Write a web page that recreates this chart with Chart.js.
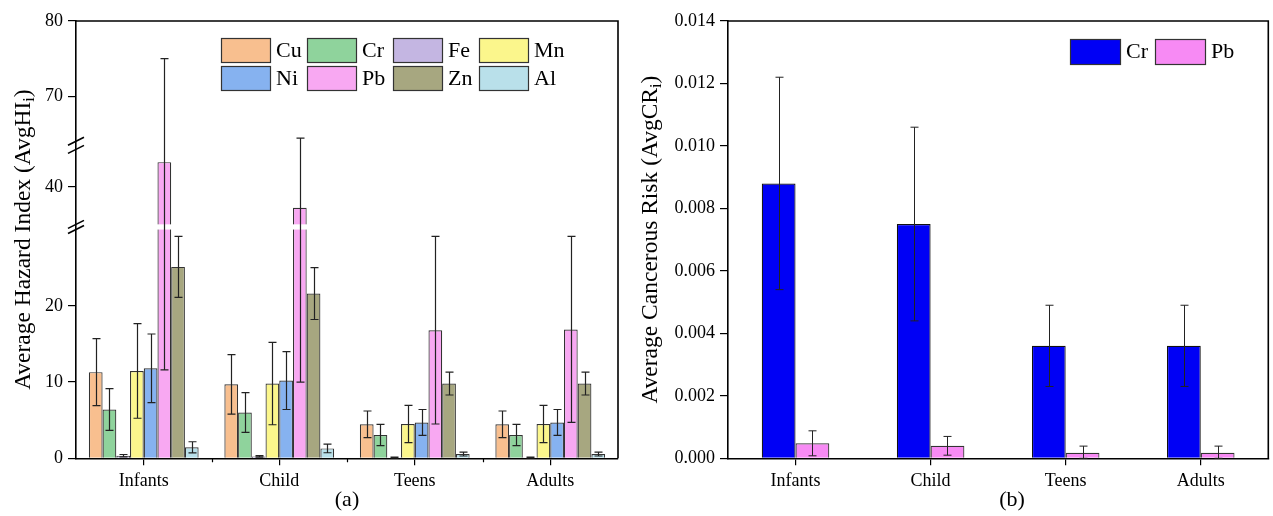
<!DOCTYPE html>
<html>
<head>
<meta charset="utf-8">
<script src="https://cdn.jsdelivr.net/npm/chart.js@4.4.1/dist/chart.umd.min.js"></script>
<style>
  html, body { margin: 0; padding: 0; background: #fff; }
  #wrap { position: relative; width: 1273px; height: 516px; overflow: hidden; background: #fff; }
  #hazard { position: absolute; left: 0; top: 0; }
  #cancer { position: absolute; left: 630px; top: 0; }
</style>
</head>
<body>
<div id="wrap">
  <canvas id="hazard" width="630" height="516"></canvas>
  <canvas id="cancer" width="643" height="516"></canvas>
</div>
<script>
// ---- data -------------------------------------------------------------
const ageGroups = ['Infants', 'Child', 'Teens', 'Adults'];

// (a) average hazard index per metal and its error
const hiCu = [11.3, 9.7, 4.45, 4.45];
const hiCuErr = [4.4, 3.9, 1.75, 1.75];
const hiCr = [6.4, 6.0, 3.05, 3.05];
const hiCrErr = [2.75, 2.6, 1.4, 1.4];
const hiFe = [0.35, 0.25, 0.1, 0.1];
const hiFeErr = [0.15, 0.1, 0.05, 0.05];
const hiMn = [11.45, 9.8, 4.5, 4.5];
const hiMnErr = [6.2, 5.4, 2.45, 2.45];
const hiNi = [11.8, 10.2, 4.7, 4.7];
const hiNiErr = [4.5, 3.8, 1.7, 1.7];
const hiPb = [43.3, 37.2, 16.8, 16.9];
const hiPbErr = [31.7, 27.2, 12.3, 12.2];
const hiZn = [25.1, 21.6, 9.8, 9.8];
const hiZnErr = [4.0, 3.4, 1.5, 1.5];
const hiAl = [1.44, 1.3, 0.56, 0.56];
const hiAlErr = [0.73, 0.57, 0.26, 0.26];
const hazardTicks = [0, 10, 20, 40, 70, 80];

// (b) average cancerous risk and its error
const crRisk = [0.0088, 0.0075, 0.0036, 0.0036];
const crRiskErr = [0.0034, 0.0031, 0.0013, 0.0013];
const pbRisk = [0.00048, 0.0004, 0.00018, 0.00018];
const pbRiskErr = [0.0004, 0.0003, 0.00021, 0.00021];

// ---- styling ------------------------------------------------------------
const SERIF = "'Liberation Serif', 'Times New Roman', serif";
Chart.defaults.font.family = SERIF;
Chart.defaults.color = '#000';

// broken value axis: value ranges and the share of the axis height each takes
const hazardAxisSegments = [
  { from: 0,  to: 30, lo: 0.0,    hi: 0.5231 },
  { from: 35, to: 45, lo: 0.5350, hi: 0.7064 },
  { from: 64, to: 80, lo: 0.7251, hi: 1.0 }
];

const BaseLinear = Chart.LinearScale || Chart.registry.getScale('linear');
class BrokenLinearScale extends BaseLinear {
  getPixelForValue(value) {
    if (value === null || value === undefined || isNaN(value)) return NaN;
    const segs = hazardAxisSegments;
    let dec = 0;
    for (let i = 0; i < segs.length; i++) {
      const s = segs[i];
      if (value <= s.to || i === segs.length - 1) {
        const v = Math.max(value, s.from);
        dec = s.lo + (v - s.from) / (s.to - s.from) * (s.hi - s.lo);
        break;
      }
    }
    return this.getPixelForDecimal(dec);
  }
  getValueForPixel(pixel) {
    const dec = this.getDecimalForPixel(pixel);
    const segs = hazardAxisSegments;
    for (let i = 0; i < segs.length; i++) {
      const s = segs[i];
      if (dec <= s.hi || i === segs.length - 1) {
        const d = Math.max(dec, s.lo);
        return s.from + (d - s.lo) / (s.hi - s.lo) * (s.to - s.from);
      }
    }
    return 0;
  }
}
BrokenLinearScale.id = 'brokenLinear';
BrokenLinearScale.defaults = BaseLinear.defaults;
Chart.register(BrokenLinearScale);

// ---- shared plugins ----------------------------------------------------------
const errorBarPlugin = {
  id: 'errorBars',
  afterDatasetsDraw(chart, args, opts) {
    const ctx = chart.ctx;
    const yScale = chart.scales.y;
    ctx.save();
    ctx.strokeStyle = opts.color || '#222';
    ctx.lineWidth = opts.width || 1;
    const cap = opts.cap || 4;
    chart.data.datasets.forEach((ds, di) => {
      const meta = chart.getDatasetMeta(di);
      if (!ds.errorValues) return;
      meta.data.forEach((bar, i) => {
        const v = ds.data[i], e = ds.errorValues[i];
        const x = Math.round(bar.x) + 0.5;
        const yTop = yScale.getPixelForValue(v + e);
        const yBot = yScale.getPixelForValue(Math.max(v - e, 0));
        ctx.beginPath();
        ctx.moveTo(x, yTop); ctx.lineTo(x, yBot);
        ctx.moveTo(x - cap, yTop); ctx.lineTo(x + cap, yTop);
        ctx.moveTo(x - cap, yBot); ctx.lineTo(x + cap, yBot);
        ctx.stroke();
      });
    });
    ctx.restore();
  }
};

const TITLE_PX = 23.5;
const framePlugin = {
  id: 'frame',
  afterDraw(chart, args, opts) {
    const { ctx, chartArea: a } = chart;
    ctx.save();
    ctx.strokeStyle = '#000';
    ctx.lineWidth = 1.6;
    ctx.beginPath();
    ctx.moveTo(a.left, a.top); ctx.lineTo(a.right, a.top); ctx.lineTo(a.right, a.bottom);
    ctx.stroke();
    // minor ticks between categories
    if (opts.minorTicks) {
      const xs = chart.scales.x;
      ctx.lineWidth = 1.2;
      ctx.beginPath();
      for (let i = 0; i < ageGroups.length - 1; i++) {
        const xm = Math.round((xs.getPixelForTick(i) + xs.getPixelForTick(i + 1)) / 2) + 0.5;
        ctx.moveTo(xm, a.bottom); ctx.lineTo(xm, a.bottom + 4);
      }
      ctx.stroke();
    }
    // axis titles
    ctx.fillStyle = '#000';
    ctx.textBaseline = 'middle';
    ctx.textAlign = 'center';
    ctx.font = '22px ' + SERIF;
    ctx.fillText(opts.xTitle, opts.xTitleX !== undefined ? opts.xTitleX : (a.left + a.right) / 2, a.bottom + 42);
    // rotated y title with subscript
    const main = opts.yTitle, sub = 'i', tail = ')';
    const big = TITLE_PX + 'px ' + SERIF, small = Math.round(TITLE_PX * 0.68) + 'px ' + SERIF;
    ctx.font = big;
    const w1 = ctx.measureText(main).width;
    const w3 = ctx.measureText(tail).width;
    ctx.font = small;
    const w2 = ctx.measureText(sub).width;
    const total = w1 + w2 + w3;
    ctx.translate(opts.yTitleX, (a.top + a.bottom) / 2);
    ctx.rotate(-Math.PI / 2);
    ctx.textAlign = 'left';
    ctx.font = big;
    ctx.fillText(main, -total / 2, 0);
    ctx.font = small;
    ctx.fillText(sub, -total / 2 + w1, 6);
    ctx.font = big;
    ctx.fillText(tail, -total / 2 + w1 + w2, 0);
    ctx.restore();
  }
};

const boxLegendPlugin = {
  id: 'boxLegend',
  afterDraw(chart, args, opts) {
    const ctx = chart.ctx;
    ctx.save();
    ctx.font = '22px ' + SERIF;
    ctx.textBaseline = 'middle';
    ctx.textAlign = 'left';
    chart.data.datasets.forEach((ds, i) => {
      const col = i % opts.columns, row = Math.floor(i / opts.columns);
      const x = opts.x + col * opts.dx, y = opts.y + row * opts.dy;
      ctx.fillStyle = ds.backgroundColor;
      ctx.fillRect(x, y, opts.boxW, opts.boxH);
      ctx.strokeStyle = '#333';
      ctx.lineWidth = 1.2;
      ctx.strokeRect(x + 0.5, y + 0.5, opts.boxW, opts.boxH);
      ctx.fillStyle = '#000';
      ctx.fillText(ds.label, x + opts.boxW + 6, y + opts.boxH / 2 + 1);
    });
    ctx.restore();
  }
};

// white gap and slash marks where the hazard axis is broken
const axisBreakPlugin = {
  id: 'axisBreaks',
  afterDatasetsDraw(chart) {
    const { ctx, chartArea: a } = chart;
    const y = chart.scales.y;
    ctx.save();
    ctx.fillStyle = '#fff';
    for (let i = 0; i < hazardAxisSegments.length - 1; i++) {
      const yLow = y.getPixelForValue(hazardAxisSegments[i].to);
      const yHigh = y.getPixelForValue(hazardAxisSegments[i + 1].from);
      ctx.fillRect(a.left + 1, yHigh, a.right - a.left - 2, yLow - yHigh);
    }
    ctx.restore();
  },
  afterDraw(chart) {
    const { ctx, chartArea: a } = chart;
    const y = chart.scales.y;
    ctx.save();
    ctx.strokeStyle = '#000';
    ctx.lineWidth = 1.6;
    for (let i = 0; i < hazardAxisSegments.length - 1; i++) {
      const yLow = y.getPixelForValue(hazardAxisSegments[i].to);
      const yHigh = y.getPixelForValue(hazardAxisSegments[i + 1].from);
      [yLow, yHigh].forEach(yy => {
        ctx.beginPath();
        ctx.moveTo(a.left - 8, yy + 4);
        ctx.lineTo(a.left + 8, yy - 4);
        ctx.stroke();
      });
    }
    ctx.restore();
  }
};

// ---- (a) hazard index --------------------------------------------------------
const metalColors = ['#F8BF8F', '#8FD39C', '#C4B6E2', '#FBF68C', '#86B2F0', '#F8A8F2', '#A7A780', '#B9E0EA'];
const hazardSeries = [
  ['Cu', hiCu, hiCuErr], ['Cr', hiCr, hiCrErr], ['Fe', hiFe, hiFeErr], ['Mn', hiMn, hiMnErr],
  ['Ni', hiNi, hiNiErr], ['Pb', hiPb, hiPbErr], ['Zn', hiZn, hiZnErr], ['Al', hiAl, hiAlErr]
];

new Chart(document.getElementById('hazard'), {
  type: 'bar',
  data: {
    labels: ageGroups,
    datasets: hazardSeries.map(([name, vals, errs], i) => ({
      label: name,
      data: vals,
      errorValues: errs,
      backgroundColor: metalColors[i],
      borderColor: '#333',
      borderWidth: 1.2,
      barPercentage: 1.0,
      categoryPercentage: 0.81
    }))
  },
  options: {
    responsive: false,
    animation: false,
    layout: { padding: { top: 21, right: 12, left: 0, bottom: 0 } },
    plugins: {
      legend: { display: false },
      tooltip: { enabled: false },
      errorBars: { color: '#222', width: 1.2, cap: 4 },
      frame: { xTitle: '(a)', yTitle: 'Average Hazard Index (AvgHI', yTitleX: 24, minorTicks: true },
      boxLegend: { x: 221, y: 38, dx: 86, dy: 28, columns: 4, boxW: 49, boxH: 24 }
    },
    scales: {
      x: {
        afterFit: s => { s.height = 57.7; },
        grid: { display: true, offset: false, drawOnChartArea: false, drawTicks: true, tickLength: 7, color: '#000', lineWidth: 1.2 },
        border: { display: true, color: '#000', width: 1.6 },
        ticks: { font: { size: 18 }, color: '#000', padding: 5, maxRotation: 0 }
      },
      y: {
        type: 'brokenLinear',
        min: 0,
        max: 80,
        afterFit: s => { s.width = 76; },
        afterBuildTicks: axis => { axis.ticks = hazardTicks.map(v => ({ value: v })); },
        grid: { display: true, drawOnChartArea: false, drawTicks: true, tickLength: 8, color: '#000', lineWidth: 1.2 },
        border: { display: true, color: '#000', width: 1.6 },
        ticks: { font: { size: 18 }, color: '#000', padding: 5, callback: v => String(v) }
      }
    }
  },
  plugins: [axisBreakPlugin, errorBarPlugin, framePlugin, boxLegendPlugin]
});

// ---- (b) cancerous risk -------------------------------------------------------
new Chart(document.getElementById('cancer'), {
  type: 'bar',
  data: {
    labels: ageGroups,
    datasets: [
      { label: 'Cr', data: crRisk, errorValues: crRiskErr, backgroundColor: '#0000F5', borderColor: '#111', borderWidth: 1.2, barPercentage: 1.0, categoryPercentage: 0.5 },
      { label: 'Pb', data: pbRisk, errorValues: pbRiskErr, backgroundColor: '#F78AF4', borderColor: '#333', borderWidth: 1.2, barPercentage: 1.0, categoryPercentage: 0.5 }
    ]
  },
  options: {
    responsive: false,
    animation: false,
    layout: { padding: { top: 21, right: 4.7, left: 0, bottom: 0 } },
    plugins: {
      legend: { display: false },
      tooltip: { enabled: false },
      errorBars: { color: '#222', width: 1, cap: 4 },
      frame: { xTitle: '(b)', xTitleX: 382, yTitle: 'Average Cancerous Risk (AvgCR', yTitleX: 21, minorTicks: false },
      boxLegend: { x: 440, y: 39, dx: 85, dy: 28, columns: 2, boxW: 50, boxH: 25 }
    },
    scales: {
      x: {
        afterFit: s => { s.height = 57.7; },
        grid: { display: true, offset: false, drawOnChartArea: false, drawTicks: true, tickLength: 7, color: '#000', lineWidth: 1.2 },
        border: { display: true, color: '#000', width: 1.6 },
        ticks: { font: { size: 18 }, color: '#000', padding: 5, maxRotation: 0 }
      },
      y: {
        min: 0,
        max: 0.014,
        afterFit: s => { s.width = 98; },
        grid: { display: true, drawOnChartArea: false, drawTicks: true, tickLength: 8, color: '#000', lineWidth: 1.2 },
        border: { display: true, color: '#000', width: 1.6 },
        ticks: { stepSize: 0.002, font: { size: 18 }, color: '#000', padding: 5, callback: v => Number(v).toFixed(3) }
      }
    }
  },
  plugins: [errorBarPlugin, framePlugin, boxLegendPlugin]
});
</script>
</body>
</html>
